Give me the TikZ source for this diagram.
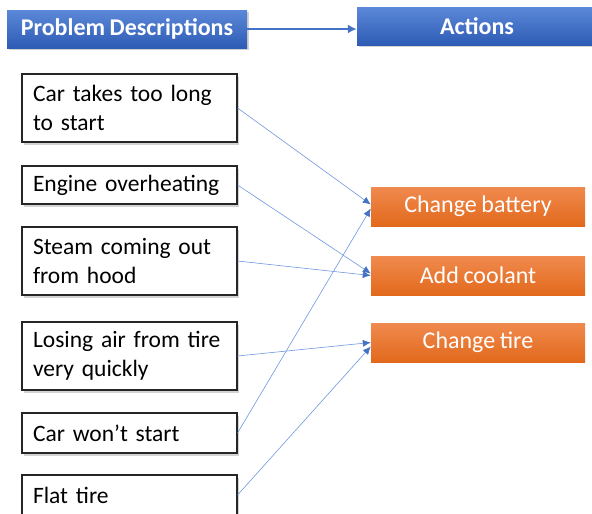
\documentclass[tikz,border=0pt]{standalone}
\usepackage{fontspec}
\setmainfont{Carlito}[WordSpace=0.85]
\usetikzlibrary{shadows,arrows.meta}
\definecolor{hdrtop}{HTML}{5B88D8}
\definecolor{hdrbot}{HTML}{2E5CB5}
\definecolor{ortop}{HTML}{F08A4E}
\definecolor{orbot}{HTML}{E2691C}
\definecolor{conncol}{HTML}{6E98DE}
\definecolor{arrcol}{HTML}{4472C4}
\begin{document}
\begin{tikzpicture}[x=1pt,y=-1pt,
  hdr/.style={top color=hdrtop,bottom color=hdrbot,draw=none,text=white,
    font=\fontsize{24}{28}\selectfont\bfseries,inner sep=0pt,
    drop shadow={shadow xshift=1.5pt,shadow yshift=-2pt,opacity=0.35}},
  prob/.style={draw=black!85,line width=1.1pt,fill=white,inner sep=0pt,
    minimum width=215pt,text width=193pt,align=left,
    font=\fontsize{23.5}{29}\selectfont,
    drop shadow={shadow xshift=2pt,shadow yshift=-2.5pt,opacity=0.35}},
  act/.style={top color=ortop,bottom color=orbot,draw=none,text=white,inner sep=0pt,
    minimum width=214pt,minimum height=39pt,font=\fontsize{24}{28}\selectfont},
  conn/.style={draw=conncol,line width=0.6pt,-{Latex[length=8pt,width=7pt,color=arrcol]}}
]
\useasboundingbox (0,0) rectangle (592,514);
\clip (0,0) rectangle (592,514);
\node[hdr,minimum width=240pt,minimum height=38pt] (pd) at (127,29) {Problem Descriptions};
\node[hdr,minimum width=240pt,minimum height=38pt] (ac) at (477,26) {Actions};
\draw[draw=arrcol,line width=2pt,-{Latex[length=9pt,width=9pt]}] (pd.east) -- (pd.east -| ac.west);

\node[prob,minimum height=68pt] (p1) at (129.5,108) {Car takes too long\\to start};
\node[prob,minimum height=38pt] (p2) at (129.5,185) {Engine overheating};
\node[prob,minimum height=68pt] (p3) at (129.5,261) {Steam coming out\\from hood};
\node[prob,minimum height=68pt] (p4) at (129.5,356) {Losing air from tire\\very quickly};
\node[prob,minimum height=40pt] (p5) at (129.5,433) {Car won’t start};
\node[prob,minimum height=40pt] (p6) at (129.5,495) {Flat tire};

\node[act] (a1) at (478,206.5) {Change battery};
\node[act] (a2) at (478,275.5) {Add coolant};
\node[act] (a3) at (478,342.5) {Change tire};

\draw[conn] (p1.east) -- ([yshift=2pt]a1.west);
\draw[conn] (p2.east) -- ([yshift=2pt]a2.west);
\draw[conn] (p3.east) -- ([yshift=0pt]a2.west);
\draw[conn] (p4.east) -- ([yshift=0pt]a3.west);
\draw[conn] (p5.east) -- ([yshift=-2pt]a1.west);
\draw[conn] (p6.east) -- ([yshift=-4pt]a3.west);
\end{tikzpicture}
\end{document}
